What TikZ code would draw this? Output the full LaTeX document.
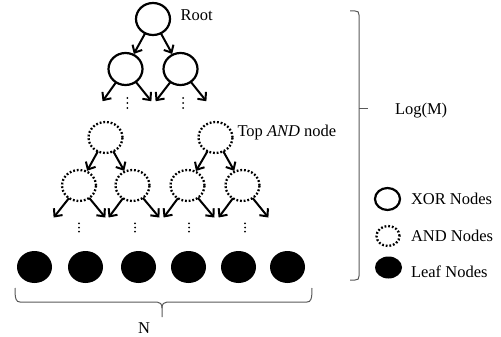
\documentclass[tikz,border=0pt]{standalone}
\usepackage{fontspec}
\setmainfont{Liberation Serif}
\usetikzlibrary{arrows.meta,shapes.geometric}
\begin{document}
\begin{tikzpicture}[x=1pt,y=-1pt,
  every node/.style={inner sep=0pt,outer sep=0pt},
  xornode/.style={ellipse,draw,line width=2.2pt,minimum width=34pt,minimum height=32pt},
  andnode/.style={ellipse,draw,line width=2.3pt,dash pattern=on 1.8pt off 1.9pt,minimum width=34pt,minimum height=31pt},
  leafnode/.style={ellipse,fill=black,minimum width=35pt,minimum height=32pt},
  arr/.style={line width=2pt,-{Straight Barb[length=6pt,width=11pt,line width=2pt]},shorten >=1pt},
  lbl/.style={font=\fontsize{16.5}{19}\selectfont,anchor=base west},
  bracecol/.style={draw=gray!70!black,line width=1pt},
  dotfill/.style={fill=black}]
\useasboundingbox (0,0) rectangle (501,337);

% XOR tree
\node[xornode] (root) at (153,19) {};
\node[xornode] (xa) at (125.5,69) {};
\node[xornode] (xb) at (180.5,69) {};
\node[lbl] (rootlbl) at (180.7,20.7) {Root};
\draw[arr] (root) -- (xa);
\draw[arr] (root) -- (xb);
\coordinate (xa1) at (102,102);
\coordinate (xa2) at (152,102);
\coordinate (xb1) at (155,102);
\coordinate (xb2) at (207,102);
\draw[arr] (xa) -- (xa1);
\draw[arr] (xa) -- (xa2);
\draw[arr] (xb) -- (xb1);
\draw[arr] (xb) -- (xb2);
\foreach \x in {127.3,183} \foreach \y in {98,103,108} \fill (\x,\y) circle (1pt);

% AND trees
\node[andnode] (ta) at (105.5,137.5) {};
\node[andnode] (tb) at (215.5,137.5) {};
\node[lbl] (toplbl) at (237.5,136.7) {Top \textit{AND} node};
\node[andnode] (a1) at (79,185.5) {};
\node[andnode] (a2) at (132.5,185.5) {};
\node[andnode] (a3) at (187.5,185.5) {};
\node[andnode] (a4) at (242.5,185.5) {};
\draw[arr] (ta) -- (a1);
\draw[arr] (ta) -- (a2);
\draw[arr] (tb) -- (a3);
\draw[arr] (tb) -- (a4);
\foreach \n/\l/\r in {a1/53/106,a2/108/160,a3/163/215,a4/218/269}{
  \coordinate (\n l) at (\l,218.3);
  \coordinate (\n r) at (\r,218.3);
  \draw[arr] (\n) -- (\n l);
  \draw[arr] (\n) -- (\n r);
}
\foreach \x in {79,135,189,245} \foreach \y in {223.3,227.5,231.7} \fill (\x,\y) circle (1pt);

% leaves
\node[leafnode] (l1) at (34.5,267) {};
\node[leafnode] (l2) at (85.5,267) {};
\node[leafnode] (l3) at (138.5,267) {};
\node[leafnode] (l4) at (188.5,267) {};
\node[leafnode] (l5) at (238.5,267) {};
\node[leafnode] (l6) at (287.5,267) {};

% bottom brace
\draw[bracecol] (15,288) .. controls (15,299) and (16,302) .. (20,302) -- (157,302)
  .. controls (160,302) and (162,304) .. (162,308) -- (162,317);
\draw[bracecol] (162,308) .. controls (162,304) and (164,302) .. (167,302) -- (307,302)
  .. controls (311,302) and (312,299) .. (312,288);
\node[lbl,anchor=base] (nlbl) at (144,333.5) {N};

% right brace
\draw[bracecol] (350,11) -- (355,11) .. controls (358,11) and (359,12) .. (359,15) -- (359,276)
  .. controls (359,279) and (358,280) .. (355,280) -- (350,280);
\draw[bracecol] (359,108) -- (368,108);
\node[lbl] (loglbl) at (395,114) {Log(M)};

% legend
\node[ellipse,draw,line width=2.2pt,minimum width=25pt,minimum height=22pt] (kx) at (387.5,199) {};
\node[lbl] (kxl) at (411,204) {XOR Nodes};
\node[ellipse,draw,line width=2.3pt,dash pattern=on 1.8pt off 1.9pt,minimum width=23pt,minimum height=20pt] (ka) at (388,236) {};
\node[lbl] (kal) at (411,241) {AND Nodes};
\node[ellipse,fill=black,minimum width=27pt,minimum height=22pt] (kl) at (388.5,267.5) {};
\node[lbl] (kll) at (411,277.3) {Leaf Nodes};
\end{tikzpicture}
\end{document}
